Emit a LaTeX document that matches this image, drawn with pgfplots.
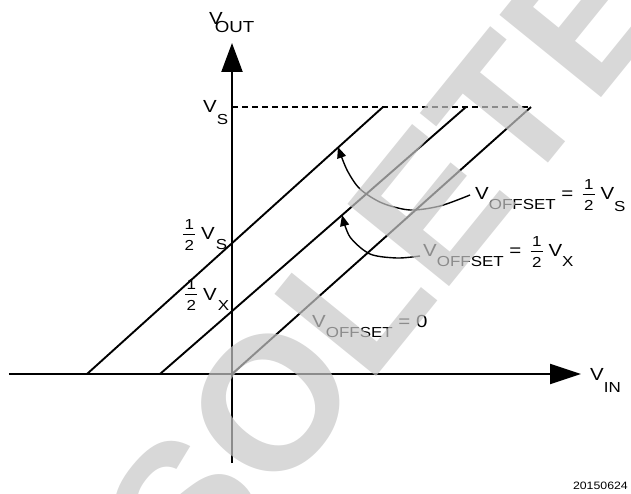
\documentclass[border=0pt]{standalone}
\usepackage{pgfplots}
\pgfplotsset{compat=1.18}
\usepackage{fontspec}
\setmainfont{Liberation Sans}
\usepackage{graphicx}
\usetikzlibrary{arrows.meta}

\newcommand\mainf{\fontsize{17.5bp}{20bp}\selectfont}
\newcommand\subf{\fontsize{14.5bp}{17bp}\selectfont}
\newcommand\V[3][0bp]{V\kern#1\raisebox{-#2}{\subf #3}}
\newcommand\fr{\raisebox{-10.5bp}{\vbox{\subf\offinterlineskip\halign{\hfil\kern1.2bp##\kern1.2bp\hfil\cr 1\cr\noalign{\kern5bp\hrule height 1.1bp\kern5bp}2\cr}}}}
\newcommand\lab[1]{\scalebox{1.17}[1]{\mainf #1}}

\begin{document}
\begin{tikzpicture}
\begin{axis}[name=ax, scale only axis, width=631bp, height=494bp,
  xmin=-232, xmax=399, ymin=-120, ymax=374, hide axis, clip=false, no markers]
% axes
\addplot[black, line width=2.2bp, -{Triangle[length=31bp,width=20bp]}] coordinates {(-223,0) (349,0)};
\addplot[black, line width=2.2bp, -{Triangle[length=29bp,width=21bp]}] coordinates {(0,-89) (0,331)};
% transfer lines
\addplot[black, line width=1.9bp] coordinates {(-145,0) (151,267)};
\addplot[black, line width=1.9bp] coordinates {(-72,0) (234,267)};
\addplot[black, line width=1.9bp] coordinates {(0,0) (299,267)};
\addplot[black, line width=1.6bp, dash pattern=on 6bp off 4bp] coordinates {(0,267) (299,267)};
% curved arrows
\addplot[black, line width=1.4bp, smooth, -{Triangle[length=11bp,width=9bp]}] coordinates {(238,179) (208,168) (178,164) (150,171) (128,185) (115,204) (106,227)};
\addplot[black, line width=1.4bp, smooth, -{Triangle[length=11bp,width=9bp]}] coordinates {(188,118) (165,116) (138,120) (118,137) (110,159)};
% labels
\node[anchor=base west, inner sep=0] at (axis cs:-23,349) {\lab{V\kern-6.8bp\raisebox{-8bp}{\fontsize{16bp}{18bp}\selectfont OUT}}};
\node[anchor=base west, inner sep=0] at (axis cs:-29,261) {\lab{\V{11.5bp}{S}}};
\node[anchor=base west, inner sep=0] at (axis cs:-49,134) {\lab{\fr\ \V[1bp]{10bp}{S}}};
\node[anchor=base west, inner sep=0] at (axis cs:-47,74) {\lab{\fr\ \V[1bp]{10bp}{X}}};
\node[anchor=base west, inner sep=0] at (axis cs:358,-6) {\lab{\V{12bp}{IN}}};
\node[anchor=base west, inner sep=0] at (axis cs:243,174) {\lab{\V{10bp}{OFFSET} =\kern3bp\ \fr\ \V{11.5bp}{S}}};
\node[anchor=base west, inner sep=0] at (axis cs:191,117) {\lab{\V{10bp}{OFFSET} =\kern3bp\ \fr\ \V{10bp}{X}}};
\node[anchor=base west, inner sep=0] at (axis cs:80,47) {\lab{\V{10bp}{OFFSET} = 0}};
\node[anchor=base east, inner sep=0] at (axis cs:396,-115) {\scalebox{1.15}[1]{\fontsize{10.7bp}{12bp}\selectfont 20150624}};
% watermark
\node[rotate=51, text=black!22, opacity=0.7, inner sep=0,
  font={\fontsize{190bp}{190bp}\selectfont\bfseries}] at (axis cs:62,0) {OBSOLETE};
\end{axis}
\pgfresetboundingbox
\path (ax.south west) rectangle (ax.north east);
\end{tikzpicture}
\end{document}
